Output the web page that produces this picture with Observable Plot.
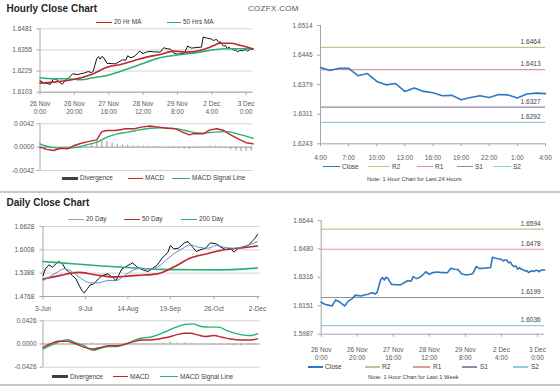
<!DOCTYPE html>
<html><head><meta charset="utf-8">
<script src="https://cdn.jsdelivr.net/npm/d3@7"></script>
<script src="https://cdn.jsdelivr.net/npm/@observablehq/plot@0.6"></script>
<style>
body{margin:0;background:#fff;font-family:"Liberation Sans",Arial,sans-serif;}
#root{position:relative;width:560px;height:386px;overflow:hidden;background:#fff;}
</style></head><body><div id="root"></div>
<script>
// ---------------- DATA ----------------
// One week of hourly closes (hour index from 26 Nov 0:00, trading hours only)
const weekTickHours = [0,20,40,60,80,100,120];
const weekTickLabels = ["26 Nov\n0:00","26 Nov\n20:00","27 Nov\n16:00","28 Nov\n12:00","29 Nov\n8:00","2 Dec\n4:00","3 Dec\n0:00"];
const weekHour = [0,2,4,6,8,10,13,15,17,19,22,24,26,28,30,31,32,33,34,35,36,37,39,42,44,46,48,50,51,53,55,57,58,60,62,64,66,68,70,72,74,76,78,80,82,84,86,88,90,92,94,95,97,99,
  100,101,102,103,104,105,106,107,108,109,110,111,112,113,114,115,116,117,118,119,120,121,122,123,124];
const weekClose = [1.6172,1.6160,1.6155,1.6150,1.6185,1.6175,1.6150,1.6178,1.6190,1.6213,1.6208,1.6214,1.6218,1.6226,1.6220,1.6228,1.6265,1.6302,1.6315,1.6300,1.6316,1.6310,1.6275,1.6273,1.6272,1.6284,1.6296,1.6294,1.6320,1.6308,1.6318,1.6336,1.6348,1.6333,1.6343,1.6346,1.6344,1.6343,1.6342,1.6368,1.6362,1.6360,1.6335,1.6330,1.6332,1.6336,1.6378,1.6366,1.6368,1.6370,1.6372,1.6432,1.6426,1.6422,
  1.6418,1.6411,1.6416,1.6416,1.6399,1.6404,1.6386,1.6378,1.6381,1.6363,1.6371,1.6363,1.6360,1.6353,1.6354,1.6344,1.6349,1.6353,1.6349,1.6356,1.6355,1.6348,1.6357,1.6359,1.6358];
const ma20Hour = [0,8,16,24,31,39,47,55,62,70,78,86,93,99,105,111,117,124];
const ma20Value = [1.6157,1.6163,1.6173,1.6189,1.6213,1.6252,1.6268,1.6292,1.6312,1.6328,1.6348,1.6342,1.6352,1.6371,1.6395,1.6395,1.6381,1.6362];
const ma50Hour = [0,8,16,24,31,39,47,55,62,70,78,86,93,101,109,117,124];
const ma50Value = [1.6189,1.6183,1.6183,1.6177,1.6189,1.6203,1.6228,1.6256,1.6282,1.6308,1.6322,1.6332,1.6342,1.6356,1.6362,1.6362,1.6362];
const hourPriceTicks = [1.6103,1.6229,1.6355,1.6481];

const hMacdHour = [0,4,8,12,16,20,24,28,33,36,39,44,50,55,59,64,69,74,79,83,87,89,95,99,103,107,111,116,120,124];
const hMacd = [0,-0.0004,-0.0006,-0.0002,-0.0003,0.0003,0.0007,0.0010,0.0013,0.0028,0.0030,0.0030,0.0033,0.0033,0.0036,0.0038,0.0036,0.0034,0.0033,0.0027,0.0022,0.0024,0.0024,0.0031,0.0033,0.0030,0.0022,0.0014,0.0008,0.0006];
const hSignalHour = [0,6,11,16,22,27,33,39,45,51,58,64,70,76,82,87,95,101,109,117,124];
const hSignal = [0.0006,0,-0.0002,-0.0002,0,0.0004,0.0009,0.0018,0.0024,0.0027,0.0031,0.0034,0.0035,0.0034,0.0032,0.0028,0.0025,0.0027,0.0028,0.0022,0.0016];
const hDivHour = [0,3,6,9,12,15,18,21,24,27,30,33,36,39,42,45,48,51,54,57,60,63,66,69,72,75,78,81,84,87,90,93,96,99,102,105,108,111,114,117,120,123];
const hDiv = [-0.0004,-0.0005,-0.0003,-0.0001,0,-0.0001,0,0.0001,0.0001,0.0002,0.0004,0.0009,0.0011,0.0010,0.0007,0.0005,0.0004,0.0003,0.0002,0.0002,0.0002,0.0002,0.0001,0.0001,0,-0.0002,-0.0003,-0.0003,-0.0004,-0.0004,-0.0002,-0.0001,0.0001,0.0002,0.0002,0.0001,-0.0002,-0.0005,-0.0007,-0.0008,-0.0008,-0.0007];
const hMacdTicks = [-0.0042,0,0.0042];

// Last 24 hours (4:00 to 4:00)
const dayHourTicks = [0,3,6,9,12,15,18,21,24];
const dayHourLabels = ["4:00","7:00","10:00","13:00","16:00","19:00","22:00","1:00","4:00"];
const last24Close = [1.6418,1.6411,1.6416,1.6416,1.6399,1.6404,1.6386,1.6378,1.6381,1.6363,1.6371,1.6363,1.6360,1.6353,1.6354,1.6344,1.6349,1.6353,1.6349,1.6356,1.6355,1.6348,1.6357,1.6359,1.6358];
const last24Ticks = [1.6243,1.6311,1.6379,1.6446,1.6514];
const levelNames = ["R2","R1","S1","S2"];
const levelColors = ["#c9c08e","#d99a98","#8e8aa8","#93cddd"];
const levels24 = [1.6464,1.6413,1.6327,1.6292];
const levelsWeek = [1.6594,1.6478,1.6199,1.6036];
const weekRightTicks = [1.5987,1.6151,1.6316,1.6480,1.6644];

// Daily (day offset from 3 Jun)
const dailyTickDays = [0,36,72,108,145,182];
const dailyTickLabels = ["3-Jun","9-Jul","14-Aug","19-Sep","26-Oct","2-Dec"];
const dailyDay = [0,2,5,8,11,13,16,19,22,25,28,30,33,35,38,40,43,47,50,55,59,62,64,67,72,76,80,84,89,93,97,101,106,108,111,115,120,123,127,130,134,138,142,147,151,155,159,162,165,169,174,178,180,182];
const dailyClose = [1.5324,1.5502,1.5609,1.5545,1.5635,1.5697,1.5662,1.5502,1.5412,1.5324,1.5236,1.5103,1.4925,1.4864,1.4986,1.5077,1.5103,1.5236,1.5324,1.5369,1.5279,1.5191,1.5324,1.5502,1.5590,1.5662,1.5545,1.5484,1.5431,1.5518,1.5609,1.5784,1.5944,1.6122,1.6035,1.6051,1.6194,1.6229,1.6077,1.5963,1.6016,1.6051,1.6194,1.6168,1.6077,1.6016,1.6051,1.5944,1.6035,1.6077,1.6122,1.6255,1.6317,1.6420];
const ma20dDay = [0,5,12,18,23,29,35,40,47,55,62,69,76,83,90,97,104,111,118,125,132,140,147,154,161,168,175,182];
const ma20dValue = [1.5191,1.5279,1.5412,1.5502,1.5457,1.5324,1.5191,1.5130,1.5130,1.5191,1.5191,1.5324,1.5457,1.5518,1.5502,1.5545,1.5723,1.5902,1.6035,1.6141,1.6077,1.6051,1.6122,1.6077,1.6051,1.6077,1.6141,1.6229];
const ma50dDay = [0,15,30,45,60,80,97,111,125,140,154,168,182];
const ma50dValue = [1.5230,1.5330,1.5410,1.5340,1.5290,1.5330,1.5370,1.5550,1.5790,1.5910,1.6010,1.6060,1.6110];
const ma200dDay = [0,25,50,75,100,125,150,170,182];
const ma200dValue = [1.5700,1.5640,1.5580,1.5530,1.5490,1.5480,1.5475,1.5495,1.5525];
const dailyPriceTicks = [1.4768,1.5388,1.6008,1.6628];

const dMacdDay = [0,6,13,21,28,35,42,49,56,63,70,77,84,91,98,106,113,120,125,131,138,145,152,159,168,176,182];
const dMacd = [-0.0061,0,0.0050,0.0050,0,-0.0061,-0.0092,-0.0061,-0.0031,-0.0031,0,0.0043,0.0074,0.0074,0.0093,0.0124,0.0167,0.0198,0.0198,0.0167,0.0137,0.0155,0.0124,0.0093,0.0074,0.0074,0.0093];
const dSignalDay = [0,6,13,21,28,35,42,49,56,63,70,77,84,91,98,106,113,120,127,134,142,149,156,165,174,178,182];
const dSignal = [-0.0092,-0.0031,0.0037,0.0081,0.0018,-0.0031,-0.0117,-0.0080,-0.0048,-0.0048,0,0.0062,0.0111,0.0124,0.0173,0.0247,0.0309,0.0359,0.0370,0.0321,0.0309,0.0309,0.0247,0.0185,0.0155,0.0160,0.0190];
const dDivDay = [0,6,12,18,24,30,36,42,48,54,60,66,72,78,84,90,96,102,108,114,120,126,132,138,144,150,156,162,168,174,180];
const dDiv = [0.002,0.001,0.001,0,-0.001,-0.001,0.001,0.002,0.001,0.001,0.001,0,0,-0.001,-0.001,0,0.001,0.002,0.003,0.002,0.002,0.001,0,-0.001,-0.002,-0.002,-0.002,-0.003,-0.003,-0.002,-0.001];
const dMacdTicks = [-0.0426,0,0.0426];

// ---------------- DRAWING ----------------
const root = document.getElementById("root");
function place(el, left, top){ el.style.position="absolute"; el.style.left=left+"px"; el.style.top=top+"px"; root.appendChild(el); }
const axisGrey = "#a6a6a6", textGrey = "#595959", gridGrey = "#d4d4d4";
const RED = "#c0272d", GREEN = "#25b374", BLUE = "#2e78c2", DIV = "#a3a3a3";
const baseStyle = {fontFamily:"'Liberation Sans', Arial, sans-serif", fontSize:"6.5px", color:textGrey, background:"none", overflow:"visible"};
const fmt4 = d => d.toFixed(4);
const pts = (xs, ys) => ys.map((v,i)=>({x:xs[i], y:v}));
const weekLabel = d => weekTickLabels[weekTickHours.indexOf(d)];

// Panel A: hourly close with MAs
place(Plot.plot({
  width:280, height:116, marginLeft:39.5, marginRight:27.5, marginTop:28.3, marginBottom:24.3,
  style:baseStyle, x:{domain:[0,124]}, y:{domain:[1.6103,1.6481]},
  marks:[
    Plot.gridY(hourPriceTicks,{stroke:gridGrey,strokeOpacity:1}),
    Plot.ruleX([0],{stroke:axisGrey}),
    Plot.ruleY([1.6103],{stroke:axisGrey}),
    Plot.axisY(hourPriceTicks,{tickSize:3,tickPadding:4.8,tickFormat:fmt4,stroke:axisGrey,fill:textGrey,label:null}),
    Plot.axisX(weekTickHours,{tickSize:3,tickPadding:4.7,tickFormat:weekLabel,lineHeight:1.28,stroke:axisGrey,fill:textGrey,label:null}),
    Plot.line(pts(weekHour,weekClose),{x:"x",y:"y",stroke:"#111",strokeWidth:1}),
    Plot.line(pts(ma50Hour,ma50Value),{x:"x",y:"y",stroke:GREEN,strokeWidth:1.6,curve:"monotone-x"}),
    Plot.line(pts(ma20Hour,ma20Value),{x:"x",y:"y",stroke:RED,strokeWidth:1.6,curve:"monotone-x"})
  ]
}),0,0);

// Panel B: hourly MACD
place(Plot.plot({
  width:280, height:60, marginLeft:39.5, marginRight:27.5, marginTop:7.3, marginBottom:6,
  style:baseStyle, x:{domain:[0,124],axis:null}, y:{domain:[-0.0042,0.0042]},
  marks:[
    Plot.gridY(hMacdTicks,{stroke:gridGrey,strokeOpacity:1}),
    Plot.ruleX([0],{stroke:axisGrey}),
    Plot.ruleY([0],{stroke:axisGrey}),
    Plot.axisY(hMacdTicks,{tickSize:3,tickPadding:3,tickFormat:fmt4,stroke:axisGrey,fill:textGrey,label:null}),
    Plot.ruleX(pts(hDivHour,hDiv),{x:"x",y1:0,y2:"y",stroke:DIV,strokeWidth:1.2}),
    Plot.line(pts(hSignalHour,hSignal),{x:"x",y:"y",stroke:GREEN,strokeWidth:1.4,curve:"monotone-x"}),
    Plot.line(pts(hMacdHour,hMacd),{x:"x",y:"y",stroke:RED,strokeWidth:1.4})
  ]
}),0,116);

// Panel C: last 24 hours with pivot levels
place(Plot.plot({
  width:280, height:162, marginLeft:40, marginRight:15, marginTop:25, marginBottom:18.7,
  style:baseStyle, x:{domain:[0,24]}, y:{domain:[1.6243,1.6514]},
  marks:[
    Plot.ruleY(levels24,{y:d=>d,stroke:(d,i)=>levelColors[i],strokeWidth:1.2}),
    Plot.text(levels24,{x:24,y:d=>d,text:fmt4,dy:-5.5,dx:-5,textAnchor:"end",fill:"#404040"}),
    Plot.ruleX([0],{stroke:axisGrey}),
    Plot.ruleY([1.6243],{stroke:axisGrey}),
    Plot.axisY(last24Ticks,{tickSize:3,tickPadding:5,tickFormat:fmt4,stroke:axisGrey,fill:textGrey,label:null}),
    Plot.axisX(dayHourTicks,{tickSize:3,tickPadding:8.1,tickFormat:d=>dayHourLabels[dayHourTicks.indexOf(d)],stroke:axisGrey,fill:textGrey,label:null}),
    Plot.line(last24Close,{x:(d,i)=>i,y:d=>d,stroke:BLUE,strokeWidth:1.6})
  ]
}),280,0);

// Panel D: last week with pivot levels
place(Plot.plot({
  width:280, height:165, marginLeft:40.7, marginRight:15.8, marginTop:25, marginBottom:26.3,
  style:baseStyle, x:{domain:[0,124]}, y:{domain:[1.5987,1.6644]},
  marks:[
    Plot.ruleY(levelsWeek,{y:d=>d,stroke:(d,i)=>levelColors[i],strokeWidth:1.2}),
    Plot.text(levelsWeek,{x:124,y:d=>d,text:fmt4,dy:-5.5,dx:-4,textAnchor:"end",fill:"#404040"}),
    Plot.ruleX([0],{stroke:axisGrey}),
    Plot.ruleY([1.5987],{stroke:axisGrey}),
    Plot.axisY(weekRightTicks,{tickSize:3,tickPadding:5,tickFormat:fmt4,stroke:axisGrey,fill:textGrey,label:null}),
    Plot.axisX(weekTickHours,{tickSize:3,tickPadding:8.7,tickFormat:weekLabel,lineHeight:1.28,stroke:axisGrey,fill:textGrey,label:null}),
    Plot.line(pts(weekHour,weekClose),{x:"x",y:"y",stroke:BLUE,strokeWidth:1.6})
  ]
}),280,195);

// Panel E: daily close with MAs
place(Plot.plot({
  width:280, height:120, marginLeft:42.5, marginRight:20.6, marginTop:31, marginBottom:19,
  style:baseStyle, x:{domain:[0,184]}, y:{domain:[1.4768,1.6628]},
  marks:[
    Plot.gridY(dailyPriceTicks,{stroke:gridGrey,strokeOpacity:1}),
    Plot.ruleX([0],{stroke:axisGrey}),
    Plot.ruleY([1.4768],{stroke:axisGrey}),
    Plot.axisY(dailyPriceTicks,{tickSize:3,tickPadding:5.7,tickFormat:fmt4,stroke:axisGrey,fill:textGrey,label:null}),
    Plot.axisX(dailyTickDays,{tickSize:3,tickPadding:6.4,tickFormat:d=>dailyTickLabels[dailyTickDays.indexOf(d)],stroke:axisGrey,fill:textGrey,label:null}),
    Plot.line(pts(dailyDay,dailyClose),{x:"x",y:"y",stroke:"#111",strokeWidth:1}),
    Plot.line(pts(ma200dDay,ma200dValue),{x:"x",y:"y",stroke:GREEN,strokeWidth:1.6,curve:"monotone-x"}),
    Plot.line(pts(ma50dDay,ma50dValue),{x:"x",y:"y",stroke:RED,strokeWidth:1.6,curve:"monotone-x"}),
    Plot.line(pts(ma20dDay,ma20dValue),{x:"x",y:"y",stroke:"#5b8ccc",strokeWidth:1,curve:"monotone-x"})
  ]
}),0,195);

// Panel F: daily MACD
place(Plot.plot({
  width:280, height:58, marginLeft:42.5, marginRight:20.6, marginTop:5.3, marginBottom:6.3,
  style:baseStyle, x:{domain:[0,184],axis:null}, y:{domain:[-0.0426,0.0426]},
  marks:[
    Plot.gridY(dMacdTicks,{stroke:gridGrey,strokeOpacity:1}),
    Plot.ruleX([0],{stroke:axisGrey}),
    Plot.ruleY([0],{stroke:axisGrey}),
    Plot.axisY(dMacdTicks,{tickSize:3,tickPadding:3.5,tickFormat:fmt4,stroke:axisGrey,fill:textGrey,label:null}),
    Plot.ruleX(pts(dDivDay,dDiv),{x:"x",y1:0,y2:"y",stroke:DIV,strokeWidth:1.2}),
    Plot.line(pts(dSignalDay,dSignal),{x:"x",y:"y",stroke:GREEN,strokeWidth:1.4,curve:"monotone-x"}),
    Plot.line(pts(dMacdDay,dMacd),{x:"x",y:"y",stroke:RED,strokeWidth:1.4,curve:"monotone-x"})
  ]
}),0,315);

// ---------------- TEXT, LEGENDS, SEPARATORS ----------------
function txt(x,y,s,size,color,weight,extra){
  const d=document.createElement("div"); d.textContent=s;
  d.style.cssText=`position:absolute;left:${x}px;top:${y-0.49*size}px;font-size:${size}px;line-height:${size}px;color:${color||"#404040"};font-weight:${weight||"normal"};white-space:nowrap;font-family:'Liberation Sans',Arial,sans-serif;${extra||""}`;
  root.appendChild(d);
}
function sw(x1,x2,y,color,h){
  const d=document.createElement("div");
  d.style.cssText=`position:absolute;left:${x1}px;top:${y-h/2}px;width:${x2-x1}px;height:${h}px;background:${color};`;
  root.appendChild(d);
}
sw(0,560,192,"#c9c9c9",2);
sw(0,560,384.5,"#c9c9c9",2);

txt(6.5,8.9,"Hourly Close Chart",10,"#262626","bold");
txt(248,8.5,"COZFX.COM",8,"#555","normal","letter-spacing:0.3px;");
txt(6.5,202.7,"Daily Close Chart",10,"#262626","bold");

// hourly price legend
sw(96,112,22.5,RED,1.4); txt(114,22.5,"20 Hr MA",6.5);
sw(167,181,22.5,GREEN,1.4); txt(183,22.5,"50 Hrs MA",6.5);
// hourly MACD legend
sw(62,78,178.3,"#404040",3); txt(80,178.3,"Divergence",6.5);
sw(128,143,178.3,RED,1.4); txt(145,178.3,"MACD",6.5);
sw(172,190,178.3,GREEN,1.4); txt(192,178.3,"MACD Signal Line",6.5);
// 24h legend
const leg24 = [[323,340,342,"Close",BLUE],[368,390,392,"R2",levelColors[0]],[417,433,435,"R1",levelColors[1]],[457,473,475,"S1",levelColors[2]],[493,511,513,"S2",levelColors[3]]];
leg24.forEach(([a,b,t,s,c])=>{sw(a,b,166.7,c,1.4);txt(t,166.7,s,6.5);});
txt(367,180,"Note: 1 Hour Chart for Last 24 Hours",5.8);
// week legend
const legW = [[308,323,325,"Close",BLUE],[365,380,382,"R2",levelColors[0]],[413,430,433,"R1",levelColors[1]],[462,477,480,"S1",levelColors[2]],[513,528,531,"S2",levelColors[3]]];
legW.forEach(([a,b,t,s,c])=>{sw(a,b,367,c,1.4);txt(t,367,s,6.5);});
txt(368,377.7,"Note: 1 Hour Chart for Last 1 Week",5.8);
// daily legend
sw(68,84,219.3,"#8fa9c8",1.4); txt(86,219.3,"20 Day",6.5);
sw(124,140,219.3,RED,1.4); txt(142,219.3,"50 Day",6.5);
sw(181,197,219.3,GREEN,1.4); txt(199,219.3,"200 Day",6.5);
// daily MACD legend
sw(52,68,376.7,"#404040",3); txt(70,376.7,"Divergence",6.5);
sw(113,128,376.7,RED,1.4); txt(130,376.7,"MACD",6.5);
sw(160,178,376.7,GREEN,1.4); txt(180,376.7,"MACD Signal Line",6.5);
</script></body></html>
